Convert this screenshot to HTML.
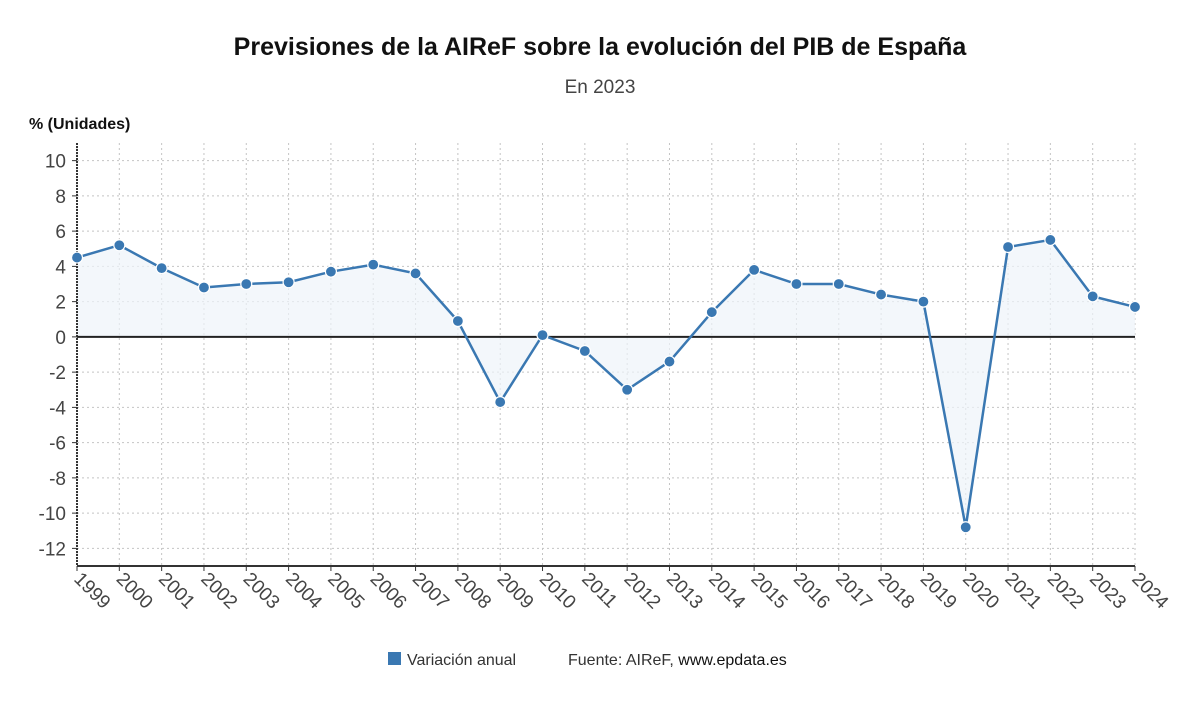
<!DOCTYPE html>
<html><head><meta charset="utf-8"><style>
body{margin:0;background:#fff;font-family:"Liberation Sans","DejaVu Sans",sans-serif;}
svg text{font-family:"Liberation Sans","DejaVu Sans",sans-serif;}
</style></head><body>
<svg id="chart" width="1200" height="705">
<text x="600" y="55" text-anchor="middle" font-size="25" font-weight="bold" fill="#111">Previsiones de la AIReF sobre la evolución del PIB de España</text>
<text x="600" y="93" text-anchor="middle" font-size="19" fill="#444">En 2023</text>
<text x="29" y="129" font-size="16" font-weight="600" fill="#111">% (Unidades)</text>
<g id="grid"></g><g id="area"></g><g id="axes"></g><g id="series"></g>
<rect x="388" y="652" width="13" height="13" fill="#3a78b2"/>
<text x="407" y="665" font-size="16" fill="#333">Variación anual</text>
<text x="568" y="665" font-size="16" fill="#333">Fuente: AIReF, <tspan fill="#111">www.epdata.es</tspan></text>
</svg>
<script>
const years=[1999,2000,2001,2002,2003,2004,2005,2006,2007,2008,2009,2010,2011,2012,2013,2014,2015,2016,2017,2018,2019,2020,2021,2022,2023,2024];
const values=[4.5,5.2,3.9,2.8,3.0,3.1,3.7,4.1,3.6,0.9,-3.7,0.1,-0.8,-3.0,-1.4,1.4,3.8,3.0,3.0,2.4,2.0,-10.8,5.1,5.5,2.3,1.7];
const yTicks=[10,8,6,4,2,0,-2,-4,-6,-8,-10,-12];
const NS="http://www.w3.org/2000/svg";
const x0=77,x1=1135,yTop=143,yBot=566,vMax=11,vMin=-13;
const X=i=>x0+(x1-x0)*i/(years.length-1);
const Y=v=>yTop+(vMax-v)*(yBot-yTop)/(vMax-vMin);
function mk(tag,attrs,parent){const e=document.createElementNS(NS,tag);for(const k in attrs)e.setAttribute(k,attrs[k]);document.getElementById(parent).appendChild(e);return e;}
yTicks.forEach(t=>{
 const l=mk('line',{x1:x0,x2:x1,y1:Y(t),y2:Y(t),stroke:'#c4c4c4','stroke-dasharray':'2,3'},'grid');
 
 
 const tk=mk('line',{x1:x0-5,x2:x0,y1:Y(t),y2:Y(t),stroke:'#333'},'axes');
 
 
 const tx=mk('text',{x:x0-11,y:Y(t)+7,'text-anchor':'end','font-size':19,fill:'#444'},'axes');
 tx.textContent=t;
 
 
});
years.forEach((yr,i)=>{
 const l=mk('line',{x1:X(i),x2:X(i),y1:yTop,y2:yBot,stroke:'#c4c4c4','stroke-dasharray':'2,3'},'grid');
 
 
 const tk=mk('line',{x1:X(i),x2:X(i),y1:yBot,y2:yBot+5,stroke:'#333'},'axes');
 
 
 const tx=mk('text',{x:X(i)-4,y:yBot+14,'font-size':19,fill:'#444',transform:`rotate(45 ${X(i)-4} ${yBot+14})`},'axes');
 tx.textContent=yr;
 
 
});
let d=`M${X(0)},${Y(0)}`;values.forEach((v,i)=>d+=` L${X(i)},${Y(v)}`);d+=` L${X(values.length-1)},${Y(0)}Z`;
const ar=mk('path',{d:d,fill:'#eef3f9','fill-opacity':0.7},'area');


const la=mk('line',{x1:x0,x2:x0,y1:yTop,y2:yBot,stroke:'#333','stroke-width':2,'stroke-dasharray':'2,1'},'axes');


const ba=mk('line',{x1:x0,x2:x1,y1:yBot,y2:yBot,stroke:'#333','stroke-width':2},'axes');


const za=mk('line',{x1:x0,x2:x1,y1:Y(0),y2:Y(0),stroke:'#222','stroke-width':2},'axes');


const pl=mk('polyline',{points:values.map((v,i)=>X(i)+','+Y(v)).join(' '),fill:'none',stroke:'#3a78b2','stroke-width':2.5},'series');


values.forEach((v,i)=>{
 const c=mk('circle',{cx:X(i),cy:Y(v),r:5.5,fill:'#3a78b2',stroke:'#fff','stroke-width':1.2},'series');
 
 
});
</script>
</body></html>
